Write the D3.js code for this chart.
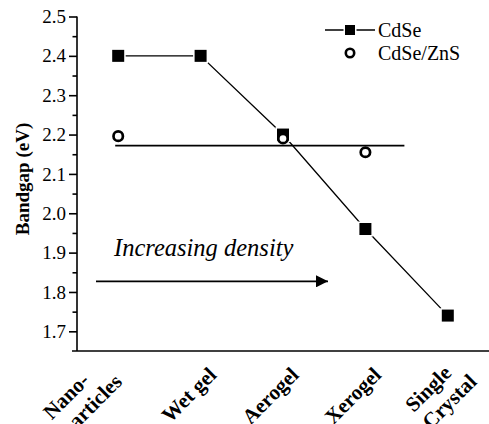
<!DOCTYPE html>
<html>
<head>
<script src="https://d3js.org/d3.v7.min.js"></script>
<style>
  body { margin: 0; background: #fff; }
  svg { display: block; }
  .axis path, .axis line { stroke: #000; stroke-width: 1.6px; fill: none; }
</style>
</head>
<body>
<script>
var categories = ['Nano-\nparticles', 'Wet gel', 'Aerogel', 'Xerogel', 'Single\nCrystal']
var cdse = [2.40, 2.40, 2.20, 1.96, 1.74]
var cdseZns = [2.196, null, 2.19, 2.155, null]
var znsLevel = 2.172
var yTicks = [1.7, 1.8, 1.9, 2.0, 2.1, 2.2, 2.3, 2.4, 2.5]
var yMinor = [1.75, 1.85, 1.95, 2.05, 2.15, 2.25, 2.35, 2.45]
var seriesNames = ['CdSe', 'CdSe/ZnS']

var w = 489, h = 424
var padL = 77, padT = 16.5, axisY = 351
var serif = '"Liberation Serif", serif'

var svg = d3.select('body').append('svg').attr('width', w).attr('height', h)

var x = d3.scalePoint().domain(categories).range([padL, 489]).padding(0.5)
var y = d3.scaleLinear().domain([1.65, 2.5]).range([axisY, padT])

// y axis with major and minor ticks
var ya = svg.append('g').attr('class', 'axis')
    .attr('transform', 'translate(' + padL + ',0)')
    .call(d3.axisLeft(y).tickValues(yTicks).tickSize(8).tickSizeOuter(0).tickPadding(3).tickFormat(d3.format('.1f')))
ya.select('.domain').attr('d', 'M0,' + padT + 'V' + axisY)
ya.selectAll('text').attr('font-family', serif).attr('font-size', 19).attr('fill', '#000')

svg.append('g').attr('class', 'axis')
    .attr('transform', 'translate(' + padL + ',0)')
    .call(d3.axisLeft(y).tickValues(yMinor).tickSize(4.5).tickFormat(''))
    .call(function(g){ g.select('.domain').remove() })

// x axis baseline only
svg.append('line')
    .attr('x1', padL - 5).attr('x2', w)
    .attr('y1', axisY).attr('y2', axisY)
    .attr('stroke', '#000').attr('stroke-width', 1.6)

// x labels, rotated; two-line ones are left-aligned blocks
var nudge = {'Nano-\nparticles': -12, 'Single\nCrystal': 13}
var lab = svg.append('g').selectAll('g').data(categories).join('g')
    .attr('transform', function(d){
        var n = d.split('\n').length
        return n > 1
            ? 'translate(' + (x(d) + nudge[d]) + ',366) rotate(-45)'
            : 'translate(' + (x(d) + 17) + ',376) rotate(-45)'
    })
lab.each(function(d){
    var lines = d.split('\n')
    var t = d3.select(this).append('text')
        .attr('font-family', serif).attr('font-size', 21).attr('font-weight', 'bold')
    lines.forEach(function(s, i){
        t.append('tspan').attr('x', 0).attr('y', i * 24).text(s)
    })
    var wmax = d3.max(t.selectAll('tspan').nodes(), function(n){ return n.getComputedTextLength() })
    t.selectAll('tspan').attr('x', lines.length > 1 ? -wmax : 0)
        .attr('text-anchor', lines.length > 1 ? 'start' : 'end')
})

// y label
svg.append('text')
    .attr('transform', 'translate(29,179) rotate(-90)')
    .attr('text-anchor', 'middle')
    .attr('font-family', serif).attr('font-size', 19).attr('font-weight', 'bold')
    .text('Bandgap (eV)')

// CdSe/ZnS horizontal level
svg.append('line')
    .attr('x1', x(categories[0]) - 3).attr('x2', x(categories[3]) + 39)
    .attr('y1', y(znsLevel)).attr('y2', y(znsLevel))
    .attr('stroke', '#000').attr('stroke-width', 1.6)

// CdSe line
var line = d3.line().x(function(d, i){ return x(categories[i]) }).y(function(d){ return y(d) })
svg.append('path').attr('d', line(cdse))
    .attr('fill', 'none').attr('stroke', '#000').attr('stroke-width', 1.3)

// squares with a white rim to leave a gap in the line
svg.append('g').selectAll('rect').data(cdse).join('rect')
    .attr('x', function(d, i){ return x(categories[i]) - 6 })
    .attr('y', function(d){ return y(d) - 6 })
    .attr('width', 12).attr('height', 12)
    .attr('fill', '#000').attr('stroke', '#fff').attr('stroke-width', 3)
    .style('paint-order', 'stroke')

// circles
svg.append('g').selectAll('circle')
    .data(cdseZns.map(function(v, i){ return {v: v, c: categories[i]} }).filter(function(d){ return d.v != null }))
    .join('circle')
    .attr('cx', function(d){ return x(d.c) })
    .attr('cy', function(d){ return y(d.v) })
    .attr('r', 4.7)
    .attr('fill', '#fff').attr('stroke', '#000').attr('stroke-width', 2.7)

// annotation
svg.append('text')
    .attr('x', 114).attr('y', 256)
    .attr('font-family', serif).attr('font-size', 24.5).attr('font-style', 'italic')
    .text('Increasing density')

svg.append('defs').append('marker')
    .attr('id', 'arr').attr('viewBox', '0 0 10 10').attr('refX', 10).attr('refY', 5)
    .attr('markerWidth', 13).attr('markerHeight', 12).attr('markerUnits', 'userSpaceOnUse')
    .attr('orient', 'auto')
    .append('path').attr('d', 'M0,0L10,5L0,10Z').attr('fill', '#000')

svg.append('line')
    .attr('x1', 96).attr('x2', 328)
    .attr('y1', y(1.827)).attr('y2', y(1.827))
    .attr('stroke', '#000').attr('stroke-width', 1.8)
    .attr('marker-end', 'url(#arr)')

// legend
var lg = svg.append('g').attr('transform', 'translate(325,30)')
lg.append('line').attr('x1', 0).attr('x2', 50).attr('y1', 0).attr('y2', 0)
    .attr('stroke', '#000').attr('stroke-width', 1.3)
lg.append('rect').attr('x', 20).attr('y', -5).attr('width', 10).attr('height', 10)
    .attr('fill', '#000').attr('stroke', '#fff').attr('stroke-width', 3).style('paint-order', 'stroke')
lg.append('circle').attr('cx', 25).attr('cy', 23).attr('r', 4.2)
    .attr('fill', '#fff').attr('stroke', '#000').attr('stroke-width', 2.6)
lg.selectAll('text.lt').data(seriesNames).join('text')
    .attr('class', 'lt')
    .attr('x', 53).attr('y', function(d, i){ return 7 + i * 23 })
    .attr('font-family', serif).attr('font-size', 20)
    .text(function(d){ return d })
</script>
</body>
</html>
